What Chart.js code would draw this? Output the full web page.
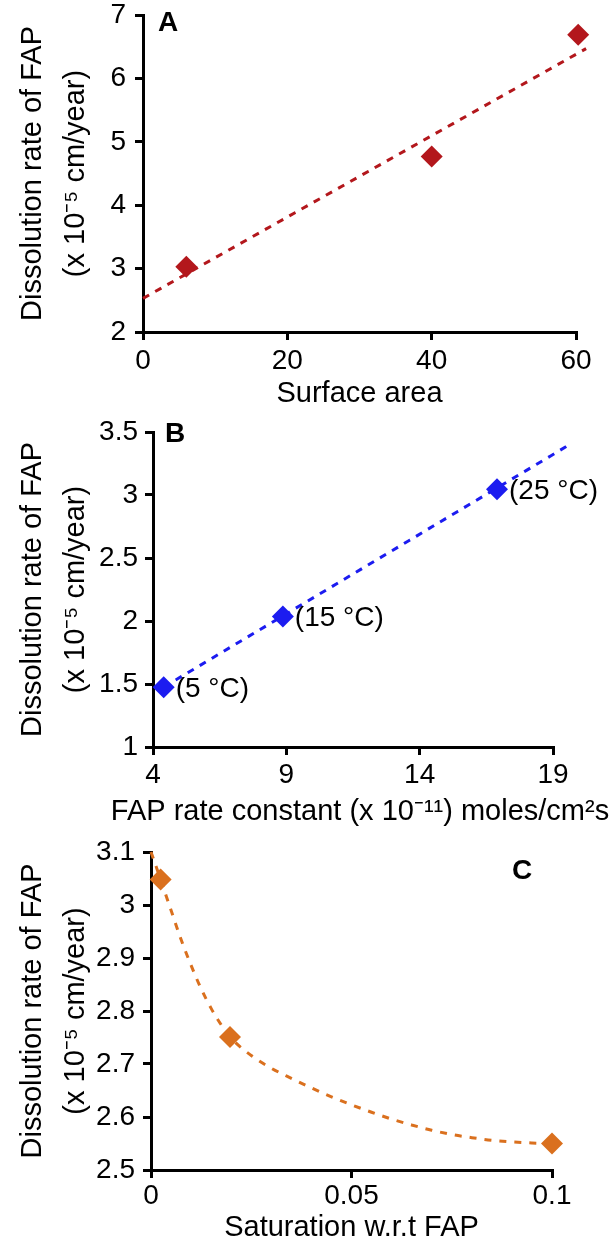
<!DOCTYPE html>
<html lang="en">
<head>
<meta charset="UTF-8">
<title>Dissolution rate of FAP</title>
<script src="https://cdn.jsdelivr.net/npm/chart.js"></script>
<style>
  html, body { margin: 0; padding: 0; background: #fff; }
  #wrap { position: relative; width: 613px; height: 1243px; overflow: hidden; }
  canvas { position: absolute; left: 0; }
</style>
</head>
<body>
<div id="wrap">
  <canvas id="chartA" width="613" height="420" style="top:0"></canvas>
  <canvas id="chartB" width="613" height="410" style="top:420px"></canvas>
  <canvas id="chartC" width="613" height="413" style="top:830px"></canvas>
</div>
<script>
// panel A - surface area
const surfaceArea = [6, 40, 60.3];
const rateA = [3.03, 4.77, 6.69];
const trendAX = [0, 61.4];
const trendAY = [2.53, 6.47];
const xTicksA = [0, 20, 40, 60];
const yTicksA = [2, 3, 4, 5, 6, 7];

// panel B - rate constant at 3 temperatures
const rateConstant = [4.4, 8.87, 16.9];
const rateB = [1.475, 2.035, 3.045];
const tempLabels = ['(5 °C)', '(15 °C)', '(25 °C)'];
const trendBX = [4.4, 19.7];
const trendBY = [1.475, 3.41];
const xTicksB = [4, 9, 14, 19];
const yTicksB = [1, 1.5, 2, 2.5, 3, 3.5];

// panel C - saturation
const saturation = [0.0024, 0.0197, 0.1];
const rateC = [3.048, 2.751, 2.55];
const curveCX = [0, 0.0024, 0.005, 0.0075, 0.01, 0.0125, 0.015, 0.0175, 0.0197, 0.025, 0.03, 0.035, 0.04,
                 0.045, 0.05, 0.055, 0.06, 0.065, 0.07, 0.075, 0.08, 0.085, 0.09, 0.095, 0.0995];
const curveCY = [3.1, 3.048, 2.99, 2.935, 2.886, 2.842, 2.805, 2.774, 2.751, 2.716, 2.692, 2.673, 2.655,
                 2.638, 2.623, 2.609, 2.596, 2.585, 2.575, 2.567, 2.561, 2.556, 2.553, 2.551, 2.55];
const xTicksC = [0, 0.05, 0.1];
const yTicksC = [2.5, 2.6, 2.7, 2.8, 2.9, 3, 3.1];

const FONT = "'Liberation Sans', Arial, sans-serif";
const yTitle = ['Dissolution rate of FAP', '(x 10\u207B\u2075 cm/year)'];

const toXY = (xs, ys) => xs.map((x, i) => ({ x: x, y: ys[i] }));

// panel letter, temperature labels next to the points, and a free-width x title
const panelText = {
  id: 'panelText',
  afterDatasetsDraw(chart, args, opts) {
    const { ctx, chartArea } = chart;
    ctx.save();
    ctx.fillStyle = '#000';
    ctx.textBaseline = 'middle';
    ctx.font = 'bold 28px ' + FONT;
    ctx.fillText(opts.letter, chartArea.left + opts.dx, chartArea.top + opts.dy);
    ctx.font = '28px ' + FONT;
    if (opts.pointLabels) {
      const meta = chart.getDatasetMeta(0);
      opts.pointLabels.forEach((t, i) => {
        const p = meta.data[i];
        ctx.fillText(t, p.x + 12, p.y + 2);
      });
    }
    if (opts.xTitle) {
      // chart.js would squeeze a title wider than the axis, so draw it here
      ctx.font = '29px ' + FONT;
      ctx.textAlign = 'center';
      ctx.fillText(opts.xTitle, (chartArea.left + chartArea.right) / 2 + 7, chartArea.bottom + 65);
    }
    ctx.restore();
  }
};

function axis(a, horizontal) {
  return {
    type: 'linear',
    min: a.ticks[0],
    max: a.ticks[a.ticks.length - 1],
    afterBuildTicks: s => { s.ticks = a.ticks.map(v => ({ value: v })); },
    afterFit: s => {
      if (horizontal) s.height = a.size; else s.width = a.size;
      s.paddingTop = 0; s.paddingBottom = 0; s.paddingLeft = 0; s.paddingRight = 0;
    },
    border: { display: true, color: '#000', width: 3 },
    grid: { drawOnChartArea: false, drawTicks: true, tickLength: 8, tickWidth: 3, tickColor: '#000', color: '#000', lineWidth: 3 },
    ticks: { color: '#000', font: { family: FONT, size: 28 }, padding: a.pad, autoSkip: false, maxRotation: 0,
             callback: v => String(v) },
    title: { display: !!a.title, text: a.title || '', color: '#000',
             font: { family: FONT, size: 29, lineHeight: horizontal ? 1 : 1.5 },
             padding: horizontal ? { top: 0, bottom: a.tpad } : { top: a.tpad, bottom: 0 } }
  };
}

function pointSet(data, color) {
  return { data: data, showLine: false, pointStyle: 'rectRot', pointRadius: 11, pointHoverRadius: 11,
           backgroundColor: color, borderColor: color, borderWidth: 0, clip: false };
}

function lineSet(data, color, dash) {
  return { data: data, showLine: true, pointRadius: 0, borderColor: color, borderWidth: 3,
           borderDash: dash, cubicInterpolationMode: 'monotone', fill: false, clip: false };
}

function makeChart(id, o) {
  return new Chart(document.getElementById(id), {
    type: 'scatter',
    data: { datasets: o.datasets },
    options: {
      responsive: false,
      maintainAspectRatio: false,
      animation: false,
      layout: { padding: o.pad },
      plugins: { legend: { display: false }, tooltip: { enabled: false }, panelText: o.text },
      scales: { x: axis(o.x, true), y: axis(o.y, false) }
    },
    plugins: [panelText]
  });
}

const red = '#B3171C', blue = '#1C1CF0', orange = '#DA701E';

makeChart('chartA', {
  pad: { top: 15, right: 37, bottom: 0, left: 0 },
  datasets: [pointSet(toXY(surfaceArea, rateA), red), lineSet(toXY(trendAX, trendAY), red, [7, 7])],
  x: { ticks: xTicksA, size: 88, pad: 4, title: 'Surface area', tpad: 12 },
  y: { ticks: yTicksA, size: 143, pad: 9, title: yTitle, tpad: 11 },
  text: { letter: 'A', dx: 15, dy: 8 }
});

makeChart('chartB', {
  pad: { top: 12, right: 60, bottom: 0, left: 0 },
  datasets: [pointSet(toXY(rateConstant, rateB), blue), lineSet(toXY(trendBX, trendBY), blue, [7, 7])],
  x: { ticks: xTicksB, size: 83, pad: 3 },
  y: { ticks: yTicksB, size: 153, pad: 7, title: yTitle, tpad: 11 },
  text: { letter: 'B', dx: 12, dy: 2, pointLabels: tempLabels,
          xTitle: 'FAP rate constant (x 10\u207B\u00B9\u00B9) moles/cm\u00B2s' }
});

makeChart('chartC', {
  pad: { top: 22, right: 61, bottom: 0, left: 0 },
  datasets: [pointSet(toXY(saturation, rateC), orange), lineSet(toXY(curveCX, curveCY), orange, [7, 8])],
  x: { ticks: xTicksC, size: 73, pad: 1, title: 'Saturation w.r.t FAP', tpad: 1 },
  y: { ticks: yTicksC, size: 151, pad: 8, title: yTitle, tpad: 11 },
  text: { letter: 'C', dx: 361, dy: 19 }
});
</script>
</body>
</html>
